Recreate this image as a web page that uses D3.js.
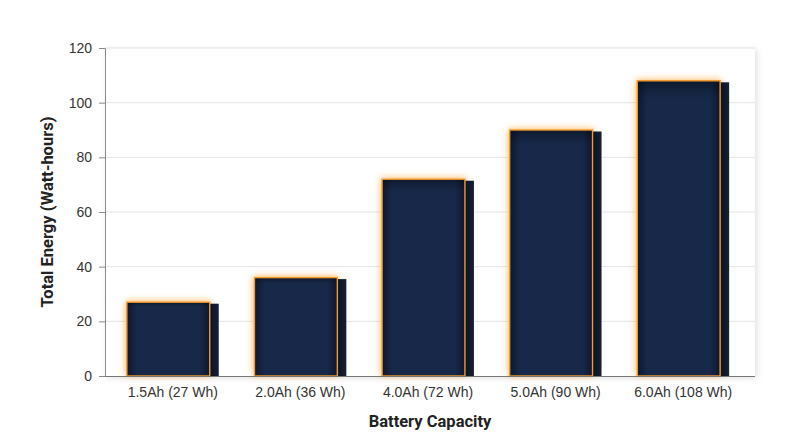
<!DOCTYPE html>
<html>
<head>
<meta charset="utf-8">
<script src="https://cdn.jsdelivr.net/npm/d3@7"></script>
<style>
  body { margin: 0; background: #fff; }
  svg { display: block; font-family: Roboto, "Noto Sans", sans-serif; }
</style>
</head>
<body>
<svg id="chart" width="800" height="447"></svg>
<script>
// data
var categories = ["1.5Ah (27 Wh)", "2.0Ah (36 Wh)", "4.0Ah (72 Wh)", "5.0Ah (90 Wh)", "6.0Ah (108 Wh)"];
var energy = [27, 36, 72, 90, 108];
var yTicks = [0, 20, 40, 60, 80, 100, 120];

var svg = d3.select("#chart");
var plot = {left: 105, right: 755, top: 48, bottom: 376};
var sideW = 9;

var x = d3.scaleBand()
  .domain(categories)
  .range([109, 747])
  .paddingInner(0.28)
  .paddingOuter(0.14);

var y = d3.scaleLinear()
  .domain([0, 120])
  .range([plot.bottom, plot.top]);

var defs = svg.append("defs");

// soft drop shadow of the plot panel
var sh = defs.append("filter").attr("id", "panelShadow")
  .attr("x", "-5%").attr("y", "-5%").attr("width", "110%").attr("height", "115%");
sh.append("feDropShadow")
  .attr("dx", 2).attr("dy", 2).attr("stdDeviation", 3)
  .attr("flood-color", "#000").attr("flood-opacity", 0.12);

// orange glow
var glow = defs.append("filter").attr("id", "glow")
  .attr("x", "-30%").attr("y", "-30%").attr("width", "160%").attr("height", "160%");
glow.append("feGaussianBlur").attr("stdDeviation", 3.5);

// front face: dark navy with darker edges
var gH = defs.append("linearGradient").attr("id", "frontH");
gH.append("stop").attr("offset", "0%").attr("stop-color", "#0d1830");
gH.append("stop").attr("offset", "12%").attr("stop-color", "#172848");
gH.append("stop").attr("offset", "88%").attr("stop-color", "#172848");
gH.append("stop").attr("offset", "100%").attr("stop-color", "#0d1830");

var gV = defs.append("linearGradient").attr("id", "frontV")
  .attr("x1", 0).attr("y1", 0).attr("x2", 0).attr("y2", 1);
gV.append("stop").attr("offset", "0%").attr("stop-color", "#000").attr("stop-opacity", 0.35);
gV.append("stop").attr("offset", "6%").attr("stop-color", "#000").attr("stop-opacity", 0);
gV.append("stop").attr("offset", "100%").attr("stop-color", "#000").attr("stop-opacity", 0);

var gS = defs.append("linearGradient").attr("id", "side");
gS.append("stop").attr("offset", "0%").attr("stop-color", "#0a1222");
gS.append("stop").attr("offset", "100%").attr("stop-color", "#151f36");

// panel
svg.append("rect")
  .attr("x", plot.left).attr("y", plot.top)
  .attr("width", plot.right - plot.left).attr("height", plot.bottom - plot.top)
  .attr("fill", "#fff")
  .attr("filter", "url(#panelShadow)");

// gridlines
svg.append("g").selectAll("line")
  .data(yTicks.filter(function(d) { return d > 0; }))
  .enter().append("line")
  .attr("x1", plot.left).attr("x2", plot.right)
  .attr("y1", function(d) { return y(d); })
  .attr("y2", function(d) { return y(d); })
  .attr("stroke", "#e4e4e4").attr("stroke-width", 1);

// bars
var bars = svg.append("g").selectAll("g")
  .data(energy)
  .enter().append("g");

function fx(d, i) { return x(categories[i]); }
var frontW = x.bandwidth() - sideW;

bars.append("rect")
  .attr("x", function(d, i) { return fx(d, i) - 1; })
  .attr("y", function(d) { return y(d) - 1; })
  .attr("width", frontW + 2)
  .attr("height", function(d) { return y(0) - y(d); })
  .attr("fill", "#ff9a1f").attr("opacity", 0.75)
  .attr("filter", "url(#glow)");

bars.append("rect")
  .attr("x", function(d, i) { return fx(d, i) + frontW - 1; })
  .attr("y", function(d) { return y(d) + 1.5; })
  .attr("width", sideW + 1)
  .attr("height", function(d) { return y(0) - y(d) - 1.5; })
  .attr("fill", "url(#side)");

bars.append("rect")
  .attr("x", function(d, i) { return fx(d, i); })
  .attr("y", function(d) { return y(d); })
  .attr("width", frontW)
  .attr("height", function(d) { return y(0) - y(d); })
  .attr("fill", "url(#frontH)");

bars.append("rect")
  .attr("x", function(d, i) { return fx(d, i); })
  .attr("y", function(d) { return y(d); })
  .attr("width", frontW)
  .attr("height", function(d) { return y(0) - y(d); })
  .attr("fill", "url(#frontV)")
  .attr("stroke", "#f39a2c").attr("stroke-width", 1.4);

// axes
var yAxis = svg.append("g")
  .attr("transform", "translate(" + plot.left + ",0)")
  .call(d3.axisLeft(y).tickValues(yTicks).tickSize(6).tickPadding(7));
yAxis.select(".domain").attr("stroke", "#8a8a8a");
yAxis.selectAll(".tick line").attr("stroke", "#8a8a8a");
yAxis.selectAll("text").attr("fill", "#333").style("font-size", "14px");

var xAxis = svg.append("g")
  .attr("transform", "translate(0," + plot.bottom + ")")
  .call(d3.axisBottom(x).tickSize(0).tickPadding(11));
xAxis.select(".domain").attr("stroke", "#777").attr("d", "M" + plot.left + ",0.5H" + plot.right);
xAxis.selectAll("text").attr("fill", "#333").style("font-size", "14px");

// axis titles
svg.append("text")
  .attr("transform", "translate(53," + ((plot.top + plot.bottom) / 2) + ") rotate(-90)")
  .attr("text-anchor", "middle")
  .style("font-size", "16.5px").style("font-weight", "bold").attr("fill", "#222")
  .text("Total Energy (Watt-hours)");

svg.append("text")
  .attr("x", (plot.left + plot.right) / 2)
  .attr("y", 427)
  .attr("text-anchor", "middle")
  .style("font-size", "16.5px").style("font-weight", "bold").attr("fill", "#222")
  .text("Battery Capacity");
</script>
</body>
</html>
